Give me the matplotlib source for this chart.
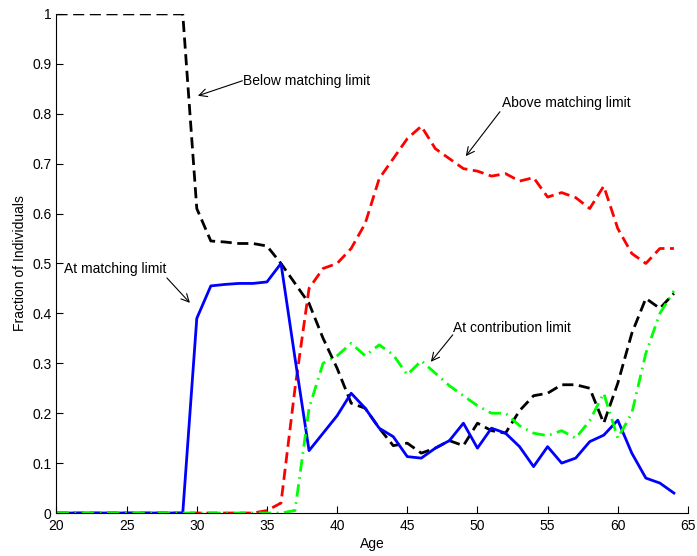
import numpy as np
import matplotlib.pyplot as plt

ages = list(range(20, 65))

# fraction of individuals by age
below_match = [1.0] * 10 + [
    0.61, 0.545, 0.543, 0.54, 0.54, 0.535, 0.50, 0.46, 0.42, 0.35,
    0.29, 0.22, 0.21, 0.17, 0.135, 0.14, 0.12, 0.13, 0.145, 0.135,
    0.18, 0.165, 0.16, 0.205, 0.235, 0.24, 0.257, 0.257, 0.25, 0.18,
    0.26, 0.36, 0.43, 0.41, 0.44]
at_match = [0.0] * 10 + [
    0.39, 0.455, 0.458, 0.46, 0.46, 0.463, 0.50, 0.31, 0.125, 0.16,
    0.195, 0.24, 0.21, 0.17, 0.153, 0.113, 0.11, 0.13, 0.145, 0.18,
    0.13, 0.17, 0.16, 0.133, 0.093, 0.133, 0.10, 0.11, 0.143, 0.156,
    0.186, 0.12, 0.07, 0.06, 0.04]
above_match = [0.0] * 15 + [
    0.005, 0.02, 0.25, 0.45, 0.49, 0.50, 0.53, 0.58, 0.67, 0.71,
    0.75, 0.775, 0.73, 0.71, 0.69, 0.685, 0.675, 0.68, 0.665, 0.672,
    0.633, 0.642, 0.632, 0.61, 0.655, 0.57, 0.52, 0.50, 0.53, 0.53]
at_contrib = [0.0] * 17 + [
    0.005, 0.21, 0.30, 0.315, 0.34, 0.315, 0.337, 0.317, 0.277,
    0.305, 0.28, 0.255, 0.235, 0.215, 0.20, 0.20, 0.175, 0.16, 0.155,
    0.165, 0.15, 0.185, 0.24, 0.15, 0.20, 0.32, 0.40, 0.445]

plt.rcParams['font.family'] = ['Liberation Sans', 'DejaVu Sans']

fig = plt.figure(figsize=(6.97, 5.56), dpi=100)
ax = fig.add_axes([0.081, 0.0773, 0.906, 0.8977])

ax.plot(ages, below_match, color='black', lw=2, linestyle=(0, (4, 2)))
ax.plot(ages, above_match, color='red', lw=2, linestyle=(0, (4, 2)))
ax.plot(ages, at_match, color='blue', lw=2, linestyle='-')
ax.plot(ages, at_contrib, color='#00ff00', lw=2, linestyle=(0, (4.5, 2, 0.6, 2)))

ax.set_xlim(20, 65)
ax.set_ylim(0, 1)
ax.set_xticks(np.arange(20, 66, 5))
ax.set_yticks(np.arange(0, 1.01, 0.1))
ax.set_yticklabels(['0', '0.1', '0.2', '0.3', '0.4', '0.5', '0.6', '0.7', '0.8', '0.9', '1'])
ax.tick_params(direction='in', length=5, labelsize=10)
ax.tick_params(axis='x', pad=4)
ax.spines['top'].set_visible(False)
ax.spines['right'].set_visible(False)
ax.set_xlabel('Age', fontsize=10, labelpad=3)
ax.set_ylabel('Fraction of Individuals', fontsize=10, labelpad=4)

arrow = dict(arrowstyle='->', lw=0.8, color='black', shrinkA=0, shrinkB=0,
             mutation_scale=14)

ax.text(33.28, 0.866, 'Below matching limit', fontsize=10, va='center', ha='left')
ax.annotate('', xy=(30.08, 0.836), xytext=(33.25, 0.866), arrowprops=arrow)

ax.text(51.73, 0.822, 'Above matching limit', fontsize=10, va='center', ha='left')
ax.annotate('', xy=(49.17, 0.715), xytext=(51.6, 0.804), arrowprops=arrow)

ax.text(20.53, 0.489, 'At matching limit', fontsize=10, va='center', ha='left')
ax.annotate('', xy=(29.51, 0.421), xytext=(27.87, 0.471), arrowprops=arrow)

ax.text(48.24, 0.371, 'At contribution limit', fontsize=10, va='center', ha='left')
ax.annotate('', xy=(46.68, 0.303), xytext=(48.24, 0.357), arrowprops=arrow)

fig.savefig('out.png', dpi=100)
